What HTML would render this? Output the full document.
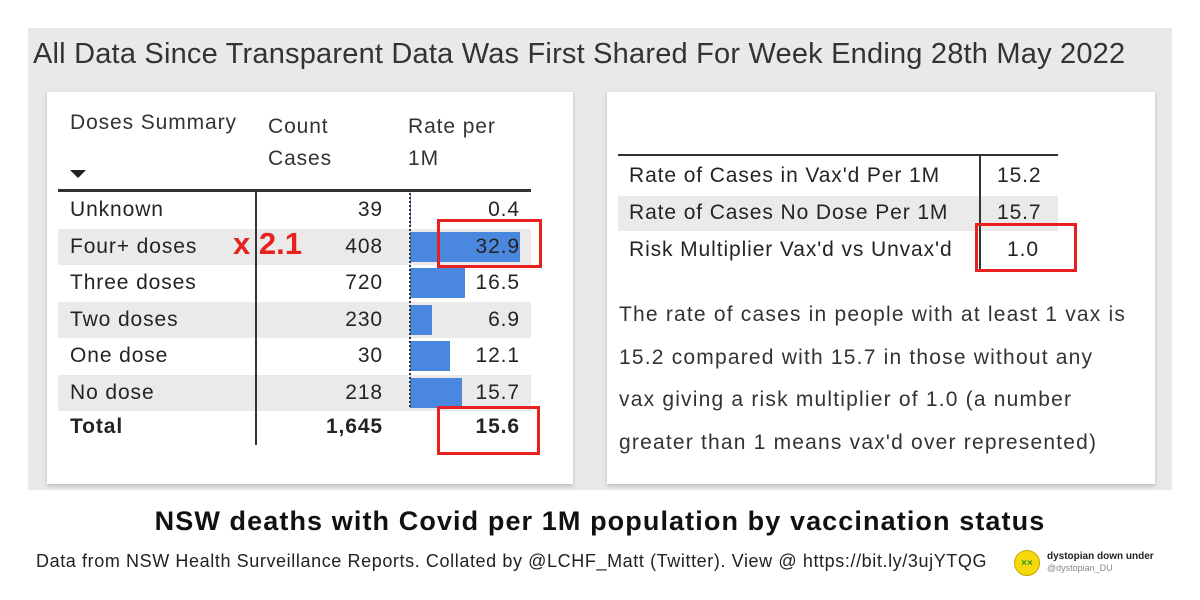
<!DOCTYPE html>
<html><head><meta charset="utf-8"><style>
body{margin:0;width:1200px;height:600px;background:#fff;position:relative;overflow:hidden;font-family:"Liberation Sans","DejaVu Sans",sans-serif;color:#252423}
.a{position:absolute;white-space:nowrap}
#rows .a,.t21{letter-spacing:0.9px}
</style></head><body>
<div class="a" style="left:28px;top:28px;width:1144px;height:462px;background:#e9e9e9"></div>
<div class="a" style="left:33px;top:38px;font-size:29px;letter-spacing:0.2px;color:#333">All Data Since Transparent Data Was First Shared For Week Ending 28th May 2022</div>
<div class="a" style="left:47px;top:92px;width:526px;height:392px;background:#fff;box-shadow:0 2px 4px #bbb"></div>
<div class="a" style="left:607px;top:92px;width:548px;height:392px;background:#fff;box-shadow:0 2px 4px #bbb"></div>
<div class="a t21" style="left:70px;top:111px;font-size:21px;color:#333">Doses Summary</div>
<div class="a" style="left:70px;top:170px;width:0;height:0;border-left:8px solid transparent;border-right:8px solid transparent;border-top:8px solid #222"></div>
<div class="a t21" style="left:268px;top:111px;font-size:21px;line-height:32px;color:#333">Count<br>Cases</div>
<div class="a t21" style="left:408px;top:111px;font-size:21px;line-height:32px;color:#333">Rate per<br>1M</div>
<div class="a" style="left:58px;top:189px;width:473px;height:3px;background:#333"></div>
<div id="rows"></div>
<div class="a" style="left:255px;top:189px;width:2px;height:256px;background:#333"></div>
<div class="a" style="left:409px;top:189px;width:0;height:218px;border-left:2px dotted #333"></div>
<div class="a" style="left:233px;top:226px;font-size:31px;font-weight:bold;color:#e8201f">x 2.1</div>
<div class="a" style="left:437px;top:219px;width:99px;height:43px;border:3px solid #e8201f"></div>
<div class="a" style="left:437px;top:406px;width:97px;height:43px;border:3px solid #e8201f"></div>

<div class="a" style="left:618px;top:154px;width:440px;height:2px;background:#333"></div>
<div class="a" style="left:618px;top:196px;width:440px;height:35px;background:#eaeaea"></div>
<div class="a" style="left:979px;top:155px;width:2px;height:115px;background:#333"></div>
<div class="a t21" style="left:629px;top:164px;font-size:21px">Rate of Cases in Vax'd Per 1M</div>
<div class="a t21" style="left:997px;top:164px;font-size:21px">15.2</div>
<div class="a t21" style="left:629px;top:201px;font-size:21px">Rate of Cases No Dose Per 1M</div>
<div class="a t21" style="left:997px;top:201px;font-size:21px">15.7</div>
<div class="a t21" style="left:629px;top:238px;font-size:21px">Risk Multiplier Vax'd vs Unvax'd</div>
<div class="a t21" style="left:1007px;top:238px;font-size:21px">1.0</div>
<div class="a" style="left:975px;top:223px;width:96px;height:43px;border:3px solid #e8201f"></div>
<div class="a" style="left:619px;top:294px;font-size:21px;letter-spacing:1.2px;line-height:42.7px;color:#333">The rate of cases in people with at least 1 vax is<br>15.2 compared with 15.7 in those without any<br>vax giving a risk multiplier of 1.0 (a number<br>greater than 1 means vax'd over represented)</div>

<div class="a" style="left:0;width:1200px;top:506px;text-align:center;font-size:27px;letter-spacing:1.1px;font-weight:bold;color:#111">NSW deaths with Covid per 1M population by vaccination status</div>
<div class="a" style="left:36px;top:551px;font-size:18px;letter-spacing:0.6px;color:#222">Data from NSW Health Surveillance Reports. Collated by @LCHF_Matt (Twitter). View @ https://bit.ly/3ujYTQG</div>
<div class="a" style="left:1014px;top:550px;width:24px;height:24px;border-radius:50%;background:#f5d90a;border:1px solid #c9a800;font-size:10px;color:#2a9a2a;text-align:center;line-height:26px;font-weight:bold">××</div>
<div class="a" style="left:1047px;top:551px;font-size:10px;font-weight:bold;color:#222">dystopian down under</div>
<div class="a" style="left:1047px;top:563px;font-size:9px;color:#888">@dystopian_DU</div>
<script>
const categories=["Unknown","Four+ doses","Three doses","Two doses","One dose","No dose"];
const counts=["39","408","720","230","30","218"];
const rates=[0.4,32.9,16.5,6.9,12.1,15.7];
const rateLabels=["0.4","32.9","16.5","6.9","12.1","15.7"];
const totalCount="1,645", totalRate="15.6";
const rowsEl=document.getElementById('rows');
const x=v=>409+v*3.37;
function add(html,style){const d=document.createElement('div');d.className='a';d.style.cssText=style;d.textContent=html;rowsEl.appendChild(d);return d;}
categories.forEach((c,i)=>{
  const top=192+i*36.6;
  if(i%2==1){const b=add('', `left:58px;top:${top}px;width:473px;height:36px;background:#eaeaea`);
    
    }
  const bar=add('', `left:410px;top:${top+3}px;width:${x(rates[i])-410}px;height:30px;background:#4a87df`);
  
  
  const l=add(c, `left:70px;top:${top+6}px;font-size:21px`);
  
  
  const n=add(counts[i], `left:283px;width:100px;top:${top+6}px;font-size:21px;text-align:right`);
  
  
  const r=add(rateLabels[i], `left:420px;width:100px;top:${top+6}px;font-size:21px;text-align:right`);
  
  
});
const t=add('Total','left:70px;top:415px;font-size:21px;font-weight:bold');


const tc=add(totalCount,'left:283px;width:100px;top:415px;font-size:21px;font-weight:bold;text-align:right');


const tr=add(totalRate,'left:420px;width:100px;top:415px;font-size:21px;font-weight:bold;text-align:right');


</script>
</body></html>
